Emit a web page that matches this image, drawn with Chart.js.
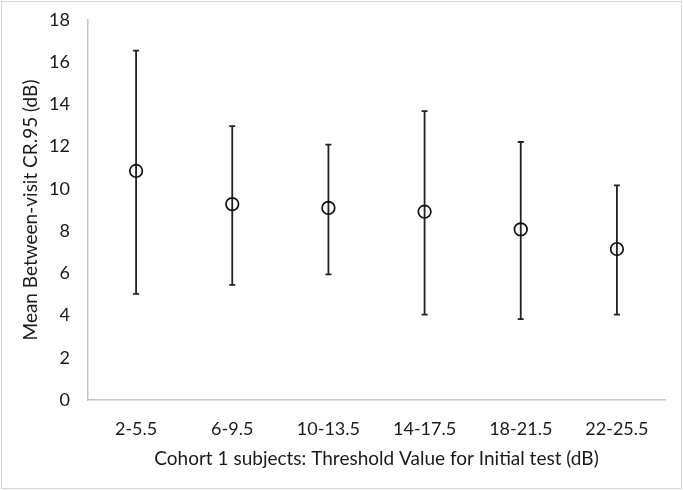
<!DOCTYPE html>
<html>
<head>
<meta charset="utf-8">
<script src="https://cdn.jsdelivr.net/npm/chart.js@4"></script>
<style>
  html, body { margin: 0; padding: 0; background: #fff; }
  #wrap { position: relative; width: 683px; height: 490px; }
</style>
</head>
<body>
<div id="wrap"><canvas id="chart"></canvas></div>
<script>
// data
const categories = ["2-5.5", "6-9.5", "10-13.5", "14-17.5", "18-21.5", "22-25.5"];
const meanCR = [10.85, 9.28, 9.1, 8.92, 8.08, 7.15];
const upperCR = [16.55, 12.97, 12.1, 13.68, 12.22, 10.17];
const lowerCR = [5.03, 5.45, 5.95, 4.04, 3.83, 4.04];
const yTicks = [0, 2, 4, 6, 8, 10, 12, 14, 16, 18];

const fontFam = "Lato, 'Open Sans', sans-serif";
const textColor = "#1a1a1a";
const axisColor = "#c4c4c4";

// error bars with small caps, drawn from the scales
const errorBars = {
  id: "errorBars",
  beforeDatasetsDraw(chart) {
    const { ctx } = chart;
    const y = chart.scales.y;
    const meta = chart.getDatasetMeta(0);
    ctx.save();
    ctx.strokeStyle = "#222";
    ctx.lineWidth = 1.8;
    meta.data.forEach((pt, i) => {
      const top = y.getPixelForValue(upperCR[i]);
      const bot = y.getPixelForValue(lowerCR[i]);
      ctx.beginPath();
      ctx.moveTo(pt.x, top);
      ctx.lineTo(pt.x, bot);
      ctx.moveTo(pt.x - 3, top);
      ctx.lineTo(pt.x + 3, top);
      ctx.moveTo(pt.x - 3, bot);
      ctx.lineTo(pt.x + 3, bot);
      ctx.stroke();
    });
    ctx.restore();
  }
};

// thin frame around the picture
const frame = {
  id: "frame",
  afterDraw(chart) {
    const { ctx, width, height } = chart;
    ctx.save();
    ctx.strokeStyle = "#d6d6d6";
    ctx.lineWidth = 1;
    ctx.strokeRect(1.5, 1.5, width - 3, height - 3);
    ctx.restore();
  }
};

new Chart(document.getElementById("chart"), {
  type: "line",
  data: {
    labels: categories,
    datasets: [{
      data: meanCR,
      showLine: false,
      pointStyle: "circle",
      pointRadius: 6.3,
      pointBorderWidth: 1.7,
      pointBorderColor: "#111",
      pointBackgroundColor: "rgba(255,255,255,0)"
    }]
  },
  options: {
    responsive: true,
    maintainAspectRatio: false,
    animation: false,
    layout: { padding: { top: 20, right: 18, bottom: 20, left: 0 } },
    plugins: {
      legend: { display: false },
      tooltip: { enabled: false }
    },
    scales: {
      x: {
        offset: true,
        grid: { display: false, drawTicks: false },
        border: { color: axisColor, width: 1.5 },
        ticks: { color: textColor, font: { family: fontFam, size: 18 }, padding: 18 },
        title: {
          display: true,
          text: "Cohort 1 subjects: Threshold Value for Initial test (dB)",
          color: textColor,
          font: { family: fontFam, size: 19 },
          padding: { top: 6, bottom: 0 }
        },
        afterFit(scale) { scale.height = 70; }
      },
      y: {
        min: 0,
        max: 18,
        afterBuildTicks(scale) { scale.ticks = yTicks.map(v => ({ value: v })); },
        grid: { display: false, drawTicks: false },
        border: { color: axisColor, width: 1.5 },
        ticks: { color: textColor, font: { family: fontFam, size: 18 }, padding: 18 },
        title: {
          display: true,
          text: "Mean Between-visit CR.95 (dB)",
          color: textColor,
          font: { family: fontFam, size: 19 },
          padding: { top: 19, bottom: 0 }
        },
        afterFit(scale) {
          scale.width = 88;
          scale.paddingTop = 10;
          scale.paddingBottom = 10;
        }
      }
    }
  },
  plugins: [errorBars, frame]
});
</script>
</body>
</html>
